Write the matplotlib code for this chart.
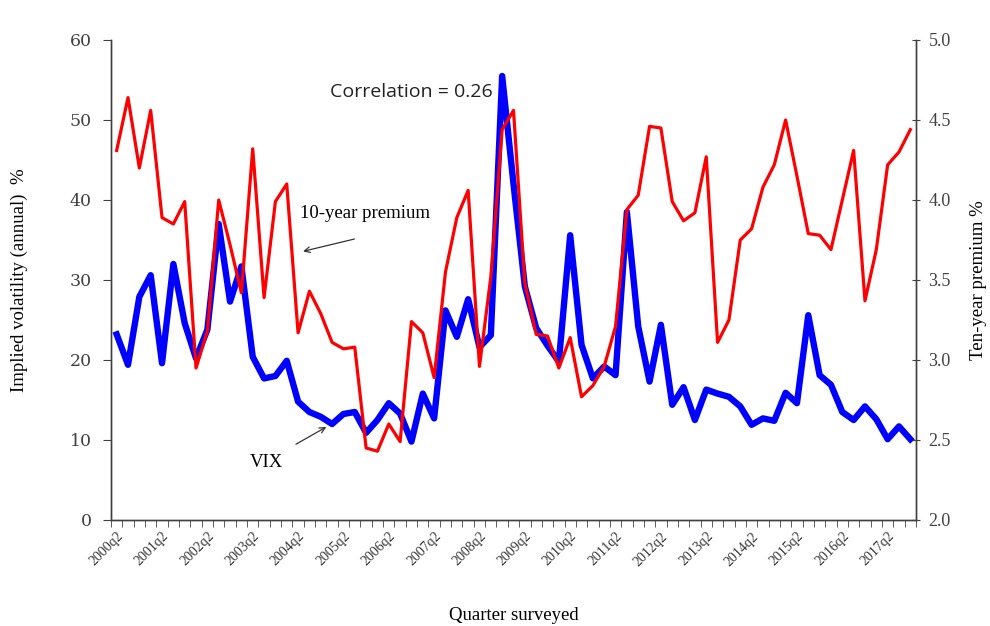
import matplotlib
matplotlib.use("Agg")
import matplotlib.pyplot as plt
import numpy as np

# Quarters 2000q2 .. 2017q4
quarters = [f"{y}q{q}" for y in range(2000, 2018) for q in range(1, 5)][1:]
tick_labels = ["2000q2", "2001q2", "2002q2", "2003q2", "2004q2", "2005q2",
               "2006q2", "2007q2", "2008q2", "2009q2", "2010q2", "2011q2",
               "2012q2", "2013q2", "2014q2", "2015q2", "2016q2", "2017q2"]

vix = [23.2, 19.4, 27.9, 30.6, 19.6, 32.0, 24.6, 20.2, 23.8, 37.0,
       27.3, 31.7, 20.4, 17.7, 18.0, 19.9, 14.8, 13.5, 12.9, 12.0,
       13.25, 13.5, 10.9, 12.5, 14.6, 13.3, 9.8, 15.8, 12.7, 26.2,
       22.9, 27.6, 21.6, 23.1, 55.5, 42.0, 29.2, 24.0, 21.8, 19.8,
       35.6, 21.9, 17.7, 19.2, 18.1, 38.5, 24.2, 17.3, 24.4, 14.4,
       16.6, 12.5, 16.3, 15.8, 15.4, 14.2, 11.9, 12.7, 12.4, 15.9,
       14.6, 25.6, 18.1, 16.9, 13.5, 12.5, 14.2, 12.6, 10.1, 11.7,
       10.1]

premium = [4.31, 4.64, 4.20, 4.56, 3.89, 3.85, 3.99, 2.95, 3.18, 4.00,
           3.72, 3.42, 4.32, 3.39, 3.99, 4.10, 3.17, 3.43, 3.29, 3.11,
           3.07, 3.08, 2.45, 2.43, 2.60, 2.49, 3.24, 3.17, 2.89, 3.55,
           3.89, 4.06, 2.96, 3.52, 4.44, 4.56, 3.48, 3.16, 3.15, 2.95,
           3.14, 2.77, 2.84, 2.96, 3.21, 3.94, 4.03, 4.46, 4.45, 3.99,
           3.87, 3.92, 4.27, 3.11, 3.25, 3.75, 3.82, 4.08, 4.22, 4.50,
           4.15, 3.79, 3.78, 3.69, 4.00, 4.31, 3.37, 3.69, 4.22, 4.30,
           4.44]

serif = "Liberation Serif"
tick_col = "#404040"

fig = plt.figure(figsize=(9.90, 6.26), dpi=100)
ax = fig.add_axes([111/990, 1-520/626, (916-111)/990, 480/626])
ax2 = ax.twinx()

x = np.arange(len(quarters))
ax.plot(x, vix, color="#0000FF", lw=4.6, solid_joinstyle="round", zorder=3)
ax2.plot(x, premium, color="#FF0000", lw=2.3, solid_joinstyle="round", zorder=4)

ax.set_xlim(-0.5, len(quarters) - 0.5)
ax.set_ylim(0, 60)
ax2.set_ylim(2.0, 5.0)

ax.set_yticks(np.arange(0, 61, 10))
ax2.set_yticks(np.arange(2.0, 5.01, 0.5))
ax2.set_yticklabels([f"{v:.1f}" for v in np.arange(2.0, 5.01, 0.5)])

lab_pos = [quarters.index(t) for t in tick_labels]
ax.set_xticks(lab_pos)
ax.set_xticklabels(tick_labels, rotation=45, ha="right", va="top",
                   rotation_mode="anchor", fontsize=10, family=serif, color="#333333")
ax.set_xticks(np.arange(-0.5, len(quarters)), minor=True)
ax.tick_params(axis="x", which="major", length=0, pad=7)
ax.tick_params(axis="x", which="minor", length=5, direction="out", color="#404040")

for a in (ax, ax2):
    a.spines["top"].set_visible(False)
    for sp in a.spines.values():
        sp.set_color("#404040")
        sp.set_linewidth(1.0)

ax.tick_params(axis="y", length=6, direction="out", color="#404040",
               labelsize=13, labelcolor=tick_col, pad=8)
for t in ax.get_yticklabels():
    t.set_family("DejaVu Serif")
    t.set_fontsize(12.5)
ax2.tick_params(axis="y", length=6, direction="inout", color="#404040",
                labelsize=13, labelcolor=tick_col, pad=6)
for t in ax2.get_yticklabels():
    t.set_family(serif)

ax.set_ylabel("Implied volatility (annual)  %", family=serif, fontsize=13.5, labelpad=30)
ax2.set_ylabel("Ten-year premium %", family=serif, fontsize=13.5, labelpad=14, rotation=90)
ax.set_xlabel("Quarter surveyed", family=serif, fontsize=13.5, labelpad=28)

ax.text(0.272, 0.892, "Correlation = 0.26", transform=ax.transAxes,
        fontsize=14, family="Open Sans", color="#222222", va="center")

ax.text(16.2, 38.3, "10-year premium", fontsize=13.5, family=serif, va="center")
ax.annotate("", xy=(16.2, 33.5), xytext=(21.2, 35.2),
            arrowprops=dict(arrowstyle="->", color="#333333", lw=0.9))
ax.text(11.7, 7.2, "VIX", fontsize=13.5, family=serif, va="center", ha="left")
ax.annotate("", xy=(18.7, 11.8), xytext=(15.6, 9.3),
            arrowprops=dict(arrowstyle="->", color="#333333", lw=0.9))

fig.savefig("out.png", dpi=100)
